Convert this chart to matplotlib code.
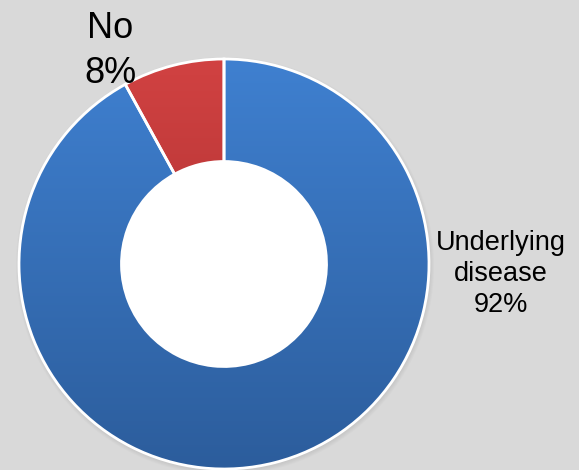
import numpy as np
import matplotlib.pyplot as plt
from matplotlib.colors import LinearSegmentedColormap

labels = ["Underlying\ndisease\n92%", "No\n8%"]
values = [92, 8]
grad_top = ["#3f80d0", "#d14242"]
grad_bottom = ["#2c5d9c", "#9b2828"]

W, H = 579, 470
fig = plt.figure(figsize=(W / 100, H / 100), dpi=100)
fig.patch.set_facecolor("#d9d9d9")
ax = fig.add_axes([0, 0, 1, 1])
ax.set_facecolor("#d9d9d9")

cx, cy, r = 224, 206, 205
ring = 0.5

# soft shadow
for k in range(6):
    ax.add_patch(plt.Circle((cx + 1, cy - 2), r + 4 - k, color="#9a9a9a",
                            alpha=0.06, lw=0, zorder=0))

wedges, _ = ax.pie(values, startangle=90, counterclock=False, radius=r,
                   center=(cx, cy),
                   wedgeprops=dict(width=r * ring, edgecolor="white", linewidth=2,
                                   facecolor="none"))
ax.add_patch(plt.Circle((cx, cy), r * (1 - ring), color="white", lw=0, zorder=1.5))

grad = np.linspace(0, 1, 256).reshape(-1, 1)
for w, c0, c1 in zip(wedges, grad_top, grad_bottom):
    cmap = LinearSegmentedColormap.from_list("g", [c0, c1])
    im = ax.imshow(grad, cmap=cmap, extent=(cx - r, cx + r, cy - r, cy + r),
                   origin="upper", aspect="auto", zorder=1)
    im.set_clip_path(w)
    w.set_zorder(2)

ax.text(110, H - 51, labels[1], ha="center", va="center", fontsize=26,
        family="Liberation Sans", linespacing=1.35)
ax.text(501, H - 274, labels[0], ha="center", va="center", fontsize=19.5,
        family="Liberation Sans", linespacing=1.25)

ax.set_xlim(0, W)
ax.set_ylim(0, H)
ax.set_aspect("equal")
ax.axis("off")
fig.savefig("out.png", dpi=100, facecolor=fig.get_facecolor())
